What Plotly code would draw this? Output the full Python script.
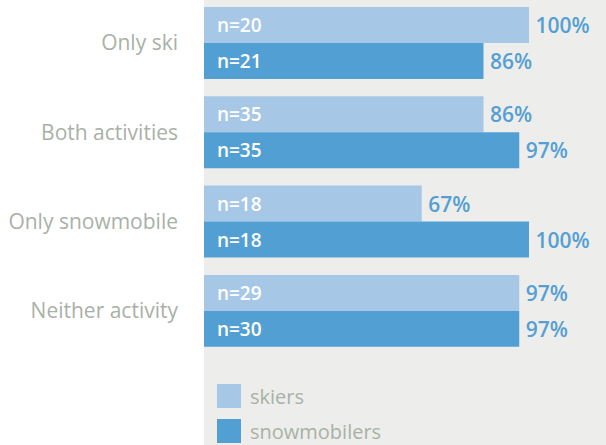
import plotly.graph_objects as go

categories = ["Only ski", "Both activities", "Only snowmobile", "Neither activity"]
series_names = ["skiers", "snowmobilers"]
skiers_pct = [100, 86, 67, 97]
snow_pct = [86, 97, 100, 97]
skiers_n = [20, 35, 18, 29]
snow_n = [21, 35, 18, 30]
colors = ["#a6c8e6", "#529fd4"]

BG = "#edeeeb"
GRAY = "#a9b1a7"
PCT_COLOR = "#559fd4"
FONT = "Open Sans"

fig = go.Figure()
data = [(skiers_pct, skiers_n), (snow_pct, snow_n)]
for i, (pct, n) in enumerate(data):
    fig.add_trace(go.Bar(
        y=categories, x=pct, orientation="h", name=series_names[i],
        marker=dict(color=colors[i], line=dict(width=0)),
        offsetgroup=str(i),
        text=[f"\u2009{v}%" for v in pct], textposition="outside",
        outsidetextfont=dict(family=FONT, size=21, color=PCT_COLOR, weight=600),
        constraintext="none", cliponaxis=False, showlegend=False,
    ))
    fig.add_trace(go.Bar(
        y=categories, x=pct, orientation="h", name=series_names[i] + " n",
        marker=dict(color="rgba(0,0,0,0)", line=dict(width=0)),
        offsetgroup=str(i),
        text=[f"\u00a0\u00a0n={v}" for v in n], textposition="inside",
        insidetextanchor="start",
        insidetextfont=dict(family=FONT, size=19, color="white", weight=600),
        constraintext="none", showlegend=False, hoverinfo="skip",
    ))

# legend swatches
shapes = []
annotations = []
leg_y = [(445 - 396) / 445, (445 - 431) / 445]
for i, name in enumerate(series_names):
    shapes.append(dict(type="rect", xref="paper", yref="paper",
                       x0=(217 - 204) / 402, x1=(241 - 204) / 402,
                       y0=leg_y[i] - 12 / 445, y1=leg_y[i] + 12 / 445,
                       fillcolor=colors[i], line=dict(width=0)))
    annotations.append(dict(xref="paper", yref="paper", x=(248 - 204) / 402, y=leg_y[i],
                            xanchor="left", yanchor="middle", showarrow=False,
                            text=name, font=dict(family=FONT, size=20, color=GRAY)))

fig.update_layout(
    width=606, height=445,
    margin=dict(l=204, r=0, t=0, b=0),
    paper_bgcolor="white", plot_bgcolor=BG,
    barmode="group", bargap=0.194, bargroupgap=0,
    shapes=shapes, annotations=annotations,
    xaxis=dict(range=[0, 100 * 402 / 325], visible=False, fixedrange=True),
    yaxis=dict(type="category", categoryorder="array", categoryarray=categories,
               range=[4.502, -0.4815], showgrid=False, zeroline=False, showline=False,
               ticks="", ticklabelstandoff=25,
               tickfont=dict(family=FONT, size=21, color=GRAY)),
    showlegend=False,
)

fig.write_html("out.html", config={"displayModeBar": False},
               post_script="document.body.style.margin='0';document.body.style.overflow='hidden';")
